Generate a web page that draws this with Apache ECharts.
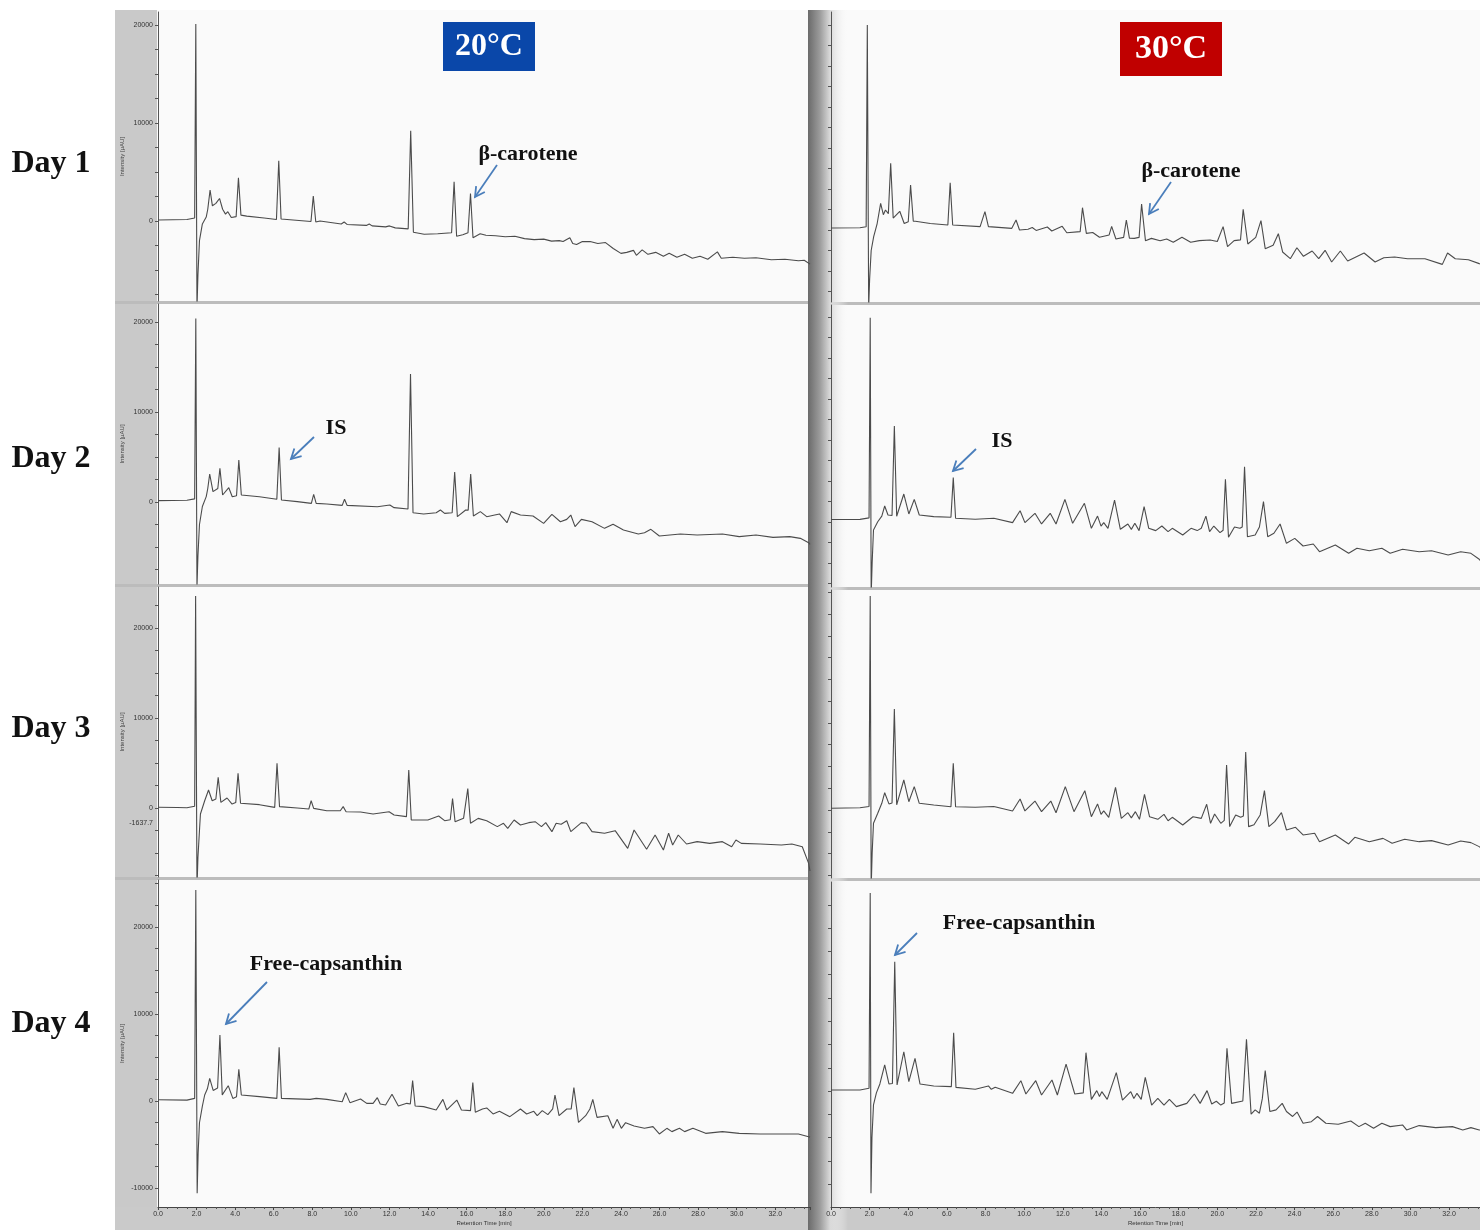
<!DOCTYPE html>
<html lang="en">
<head>
    <meta charset="utf-8">
    <title>Chromatograms 20°C / 30°C, Day 1-4</title>
    <style>
        html, body { margin: 0; padding: 0; background: #fff; }
        #chart { width: 1480px; height: 1230px; }
    </style>
</head>
<body>
<div id='chart'></div>
<script src='https://cdn.jsdelivr.net/npm/echarts@6.0.0/dist/echarts.min.js'></script>
<script>
// retention time [min], intensity [uAU]
var day1_20 = [[0,100],[1.5,150],[1.9,300],[1.96,20100],[2.02,-9000],[2.07,-5500],[2.15,-2000],[2.3,-300],[2.5,400],[2.58,1200],[2.7,3160],[2.82,1550],[3.0,1800],[3.19,2300],[3.35,1200],[3.5,700],[3.62,950],[3.8,350],[4.05,450],[4.17,4400],[4.3,600],[4.6,500],[5.5,300],[6.14,150],[6.26,6150],[6.38,200],[7.0,100],[7.93,-50],[8.05,2550],[8.18,-100],[8.4,0],[9.5,-300],[9.65,-100],[9.8,-350],[10.8,-450],[10.95,-300],[11.1,-500],[11.8,-600],[12.0,-500],[12.3,-700],[12.97,-800],[13.1,9200],[13.24,-1150],[13.8,-1350],[14.5,-1300],[15.22,-1200],[15.35,4000],[15.48,-1550],[15.8,-1400],[16.07,-1200],[16.2,2800],[16.33,-1700],[16.7,-1300],[17.0,-1450],[17.5,-1500],[18.0,-1600],[18.5,-1550],[19.0,-1800],[19.5,-1900],[20.0,-1850],[20.4,-2050],[20.8,-2000],[21.0,-2100],[21.35,-1700],[21.5,-2300],[21.7,-2400],[22.0,-2100],[22.4,-2100],[22.8,-2300],[23.2,-2200],[23.6,-2800],[24.0,-3300],[24.3,-3200],[24.65,-3000],[24.8,-3500],[25.1,-2950],[25.4,-3400],[25.8,-3200],[26.2,-3600],[26.5,-3300],[26.9,-3700],[27.3,-3400],[27.7,-3800],[28.1,-3600],[28.5,-3900],[29.0,-3150],[29.2,-3800],[29.8,-3700],[30.4,-3800],[31.0,-3750],[31.8,-3950],[32.5,-3900],[33.2,-4050],[33.5,-4000],[33.8,-4400]];
var day2_20 = [[0,150],[1.5,200],[1.9,350],[1.96,20400],[2.02,-9500],[2.07,-6000],[2.15,-2500],[2.3,-500],[2.5,600],[2.58,1500],[2.68,3110],[2.85,1150],[3.1,1500],[3.21,3740],[3.35,780],[3.45,780],[3.67,1590],[3.85,590],[4.07,700],[4.19,4670],[4.32,780],[5.26,590],[6.16,300],[6.28,6040],[6.4,220],[7.22,40],[7.95,-150],[8.07,850],[8.2,-150],[8.75,-220],[9.55,-370],[9.67,300],[9.8,-370],[11.37,-520],[12.02,-330],[12.24,-630],[12.96,-780],[13.09,14220],[13.22,-1190],[13.77,-1330],[14.42,-1190],[14.64,-890],[14.86,-1260],[15.25,-1190],[15.38,3330],[15.52,-1630],[15.95,-890],[16.08,-900],[16.21,3110],[16.35,-1560],[16.71,-1070],[17.04,-1630],[17.7,-1330],[18.09,-2300],[18.31,-1070],[18.79,-1450],[19.44,-1560],[19.99,-2370],[20.42,-1370],[20.86,-2190],[21.19,-1930],[21.4,-1450],[21.62,-2740],[21.95,-1930],[22.5,-2190],[23.15,-2930],[23.59,-2480],[24.13,-3110],[24.9,-3550],[25.22,-3410],[25.55,-3040],[25.99,-3780],[27.08,-3550],[27.95,-3670],[29.26,-3550],[30.13,-3850],[31.0,-3670],[31.88,-3930],[32.75,-3850],[33.3,-4040],[33.73,-4520],[33.8,-4700]];
var day3_20 = [[0,80],[1.0,60],[1.5,20],[1.9,200],[1.95,23560],[2.02,-9000],[2.07,-5500],[2.15,-2500],[2.2,-670],[2.42,810],[2.62,2000],[2.81,810],[3.0,1000],[3.12,3410],[3.26,630],[3.34,630],[3.58,1110],[3.84,440],[4.03,600],[4.15,3850],[4.28,520],[5.26,370],[6.05,70],[6.17,4960],[6.3,150],[7.22,0],[7.82,-110],[7.94,810],[8.07,-40],[8.75,-300],[9.45,-300],[9.6,150],[9.75,-410],[10.5,-450],[11.15,-670],[11.98,-410],[12.24,-780],[12.88,-960],[13.0,4220],[13.13,-1330],[13.99,-1330],[14.55,-890],[14.86,-1410],[15.15,-1300],[15.27,1040],[15.4,-1520],[15.84,-1150],[15.94,-1000],[16.06,2150],[16.2,-1700],[16.6,-1150],[17.04,-1410],[17.59,-2070],[17.91,-1700],[18.13,-2260],[18.46,-1330],[18.79,-1890],[19.22,-1630],[19.55,-1520],[19.88,-2070],[20.1,-1630],[20.42,-2630],[20.64,-1700],[20.9,-1800],[21.19,-1410],[21.4,-2630],[21.95,-1630],[22.2,-1700],[22.5,-2630],[23.15,-2810],[23.7,-2520],[24.35,-4480],[24.68,-2440],[25.33,-4590],[25.77,-3000],[26.2,-4670],[26.47,-2810],[26.68,-4110],[26.97,-3000],[27.4,-4000],[27.95,-3740],[28.6,-3930],[29.26,-3740],[29.74,-4300],[29.96,-3560],[30.24,-3930],[31.22,-4000],[32.32,-4110],[32.86,-4000],[33.4,-4300],[33.73,-6150],[33.8,-7000]];
var day4_20 = [[0,150],[1.5,100],[1.9,300],[1.96,24250],[2.03,-10600],[2.08,-6000],[2.15,-2500],[2.3,-600],[2.42,690],[2.56,1400],[2.68,2600],[2.86,1210],[3.09,1500],[3.21,7580],[3.33,700],[3.43,500],[3.64,1760],[3.88,300],[4.07,500],[4.19,3640],[4.32,690],[5.26,500],[6.16,300],[6.28,6170],[6.4,300],[7.88,190],[8.2,300],[8.75,190],[9.55,-80],[9.73,960],[9.95,-190],[10.5,230],[10.82,-270],[11.15,-270],[11.37,380],[11.52,-350],[11.8,-460],[12.13,770],[12.46,-580],[12.9,-270],[13.08,-350],[13.2,2340],[13.33,-580],[13.77,-650],[14.42,-1030],[14.77,190],[14.97,-1030],[15.49,110],[15.73,-1030],[16.2,-1110],[16.32,2110],[16.45,-1300],[16.82,-920],[17.04,-800],[17.37,-1490],[17.7,-1190],[18.24,-1800],[18.79,-920],[19.11,-1490],[19.48,-1190],[19.66,-1690],[19.92,-1110],[20.21,-1570],[20.46,-900],[20.58,690],[20.79,-1690],[21.19,-920],[21.42,-900],[21.56,1530],[21.8,-2450],[22.17,-1690],[22.39,-920],[22.54,190],[22.76,-1880],[23.32,-1690],[23.59,-3140],[23.8,-2110],[24.02,-3140],[24.24,-2490],[24.68,-2870],[25.22,-3140],[25.66,-2950],[25.99,-3790],[26.38,-3140],[26.64,-3520],[27.03,-3140],[27.3,-3520],[27.73,-3140],[28.39,-3720],[29.26,-3520],[30.13,-3720],[31.22,-3790],[32.32,-3790],[33.2,-3790],[33.73,-4100],[33.8,-4150]];
var day1_30 = [[0,250],[1.5,280],[1.82,400],[1.88,25000],[1.95,-9500],[2.0,-6000],[2.08,-2500],[2.21,-800],[2.39,790],[2.57,3250],[2.71,1870],[2.82,2440],[2.97,2000],[3.09,8130],[3.22,1460],[3.29,1460],[3.56,2280],[3.79,790],[4.0,1000],[4.12,5490],[4.26,1060],[4.37,1060],[5.14,790],[6.05,610],[6.17,5770],[6.3,610],[7.72,410],[7.97,2240],[8.15,410],[9.36,200],[9.58,1220],[9.76,0],[10.2,100],[10.42,300],[10.62,-50],[11.2,370],[11.43,-120],[11.97,450],[12.21,-330],[12.9,-200],[13.02,2720],[13.22,-410],[13.55,-300],[13.9,-890],[14.4,-600],[14.53,450],[14.75,-1100],[15.15,-900],[15.29,1220],[15.45,-1000],[15.7,-1020],[15.95,-900],[16.08,3170],[16.28,-1300],[16.59,-1020],[17.04,-1300],[17.38,-1100],[17.72,-1500],[18.17,-890],[18.62,-1500],[19.07,-1300],[19.63,-1220],[20.0,-1400],[20.3,410],[20.53,-2030],[20.87,-1300],[21.2,-1200],[21.34,2520],[21.58,-1710],[21.99,-890],[22.26,1140],[22.48,-2280],[22.89,-1870],[23.16,-450],[23.38,-2680],[23.78,-3500],[24.12,-2160],[24.46,-3210],[24.91,-2560],[25.25,-3500],[25.58,-2480],[25.92,-3900],[26.37,-2560],[26.75,-3780],[27.6,-2800],[28.17,-3900],[28.62,-3380],[29.18,-3290],[29.85,-3500],[30.75,-3500],[31.65,-4190],[31.92,-2800],[32.32,-3500],[33.0,-3620],[33.56,-4100],[33.6,-4150]];
var day2_30 = [[0,300],[1.5,320],[1.97,500],[2.03,24900],[2.08,-9000],[2.13,-5000],[2.2,-980],[2.42,30],[2.63,720],[2.78,1950],[2.95,850],[3.16,800],[3.28,11710],[3.4,700],[3.49,650],[3.77,3410],[4.03,980],[4.31,2760],[4.57,850],[5.32,650],[6.21,570],[6.33,5410],[6.45,450],[7.47,330],[8.43,450],[9.4,-80],[9.79,1380],[10.04,-80],[10.56,1060],[10.9,-240],[11.35,1060],[11.65,-240],[12.11,2760],[12.51,-160],[13.12,2280],[13.48,-770],[13.8,720],[13.98,-500],[14.12,-80],[14.34,-770],[14.68,2680],[14.98,-890],[15.37,-240],[15.55,-900],[15.73,-160],[15.95,-1050],[16.21,1870],[16.45,-770],[16.81,-1050],[17.13,-490],[17.45,-1180],[17.67,-770],[18.21,-1590],[18.64,-770],[18.96,-1050],[19.17,-770],[19.41,720],[19.6,-1180],[19.82,-490],[20.14,-1300],[20.3,-1000],[20.42,5200],[20.58,-1870],[20.89,-610],[21.17,-770],[21.29,-600],[21.41,6750],[21.56,-1790],[21.96,-1590],[22.18,-610],[22.39,2480],[22.61,-1790],[22.93,-1380],[23.25,-240],[23.58,-2600],[24.01,-2000],[24.44,-2930],[24.97,-2680],[25.29,-3620],[26.11,-2800],[26.8,-3820],[27.23,-3210],[27.87,-3500],[28.52,-3210],[28.95,-3820],[29.59,-3330],[30.45,-3620],[31.09,-3500],[31.95,-4030],[32.6,-3620],[33.13,-3820],[33.56,-4550],[33.6,-4700]];
var day3_30 = [[0,200],[1.5,250],[1.97,400],[2.03,24600],[2.08,-9000],[2.13,-5000],[2.2,-1530],[2.42,-380],[2.63,770],[2.78,1990],[3.0,700],[3.16,800],[3.28,11600],[3.4,600],[3.49,570],[3.77,3450],[4.03,950],[4.31,2680],[4.57,770],[5.32,570],[6.21,380],[6.33,5360],[6.45,380],[7.47,310],[8.43,400],[9.4,-110],[9.79,1260],[10.04,-110],[10.56,1030],[10.9,-190],[11.38,1030],[11.65,-310],[12.13,2680],[12.58,-190],[13.14,2220],[13.48,-770],[13.8,700],[13.98,-500],[14.12,-110],[14.38,-840],[14.73,2600],[15.03,-960],[15.37,-310],[15.55,-900],[15.76,-190],[15.97,-1070],[16.23,1800],[16.49,-770],[16.92,-1070],[17.24,-500],[17.45,-1230],[17.67,-840],[18.21,-1720],[18.74,-770],[19.17,-960],[19.45,660],[19.65,-1530],[19.86,-460],[20.18,-1530],[20.36,-1200],[20.48,5170],[20.64,-1910],[20.95,-570],[21.21,-840],[21.35,-700],[21.47,6660],[21.62,-1910],[21.9,-1700],[22.22,-570],[22.44,2220],[22.67,-1910],[22.97,-1340],[23.32,-310],[23.58,-2300],[24.05,-1990],[24.44,-2870],[25.04,-2680],[25.29,-3640],[26.11,-2870],[26.8,-3900],[27.12,-3140],[27.87,-3640],[28.58,-3260],[29.05,-3830],[29.7,-3370],[30.45,-3640],[31.09,-3520],[31.95,-4020],[32.6,-3560],[33.13,-3750],[33.56,-4210],[33.6,-4300]];
var day4_30 = [[0,100],[1.5,100],[1.97,300],[2.03,21300],[2.07,-11000],[2.12,-5000],[2.2,-1500],[2.35,-200],[2.53,760],[2.78,2800],[3.0,760],[3.18,800],[3.3,13900],[3.42,650],[3.51,570],[3.77,4220],[4.03,1000],[4.35,3510],[4.61,750],[5.32,540],[6.23,470],[6.35,6270],[6.47,390],[7.47,180],[8.15,540],[8.3,180],[8.5,400],[9.4,-250],[9.83,1110],[10.09,-320],[10.6,1110],[10.9,-430],[11.44,1180],[11.72,-430],[12.17,2900],[12.62,-320],[13.06,-200],[13.2,4120],[13.48,-900],[13.76,40],[13.9,-600],[14.02,-70],[14.3,-900],[14.77,1970],[15.09,-970],[15.52,-70],[15.68,-800],[15.84,-250],[16.06,-900],[16.27,1470],[16.6,-1510],[16.92,-790],[17.24,-1510],[17.52,-900],[17.88,-1680],[18.42,-1330],[18.81,-320],[19.11,-1330],[19.47,40],[19.71,-1400],[19.95,-1100],[20.18,-1510],[20.36,-1300],[20.5,4590],[20.74,-1330],[21.32,-1080],[21.51,5550],[21.75,-2490],[21.96,-2030],[22.18,-2390],[22.33,-820],[22.48,2190],[22.72,-2200],[23.04,-2030],[23.36,-1330],[23.58,-2200],[23.9,-2740],[24.13,-2260],[24.44,-3470],[24.87,-3300],[25.19,-2740],[25.62,-3470],[26.26,-3580],[26.91,-3220],[27.33,-3830],[27.66,-3470],[28.09,-4010],[28.52,-3470],[28.95,-3830],[29.59,-3650],[29.8,-4190],[30.45,-3720],[31.31,-3940],[32.17,-3830],[32.71,-4190],[33.13,-3940],[33.56,-4190],[33.6,-4200]];

var traces = [day1_20, day2_20, day3_20, day4_20, day1_30, day2_30, day3_30, day4_30];
var dayLabels = ['Day 1', 'Day 2', 'Day 3', 'Day 4'];
var tempLabels = ['20°C', '30°C'];
// y tick labels of the 20°C panels (30°C labels are hidden under the panel edge)
var yLabels20 = [[0, 10000, 20000], [0, 10000, 20000], [-1637.7, 0, 10000, 20000], [-10000, 0, 10000, 20000]];
var xMax = [33.8, 33.6];

// panel layout in px
var boxes = [
    {left: 158, top: 12, width: 652, height: 289},
    {left: 158, top: 304, width: 652, height: 280},
    {left: 158, top: 587, width: 652, height: 290},
    {left: 158, top: 880, width: 652, height: 327},
    {left: 831, top: 12, width: 649, height: 290},
    {left: 831, top: 305, width: 649, height: 282},
    {left: 831, top: 590, width: 649, height: 288},
    {left: 831, top: 882, width: 649, height: 325}
];
var yRange = [[-8163, 21327], [-9111, 22000], [-7667, 24556], [-12184, 25402],
              [-8780, 26585], [-7927, 26463], [-7816, 25287], [-12473, 22473]];

var serif = 'Liberation Serif';
var sans = 'Liberation Sans';

function minorTicks(r) {
    var arr = [];
    for (var v = Math.ceil(r[0] / 2500) * 2500; v <= r[1]; v += 2500) arr.push(v);
    return arr;
}

var grids = [], xAxes = [], yAxes = [], series = [];
for (var i = 0; i < 8; i++) {
    var left = i < 4;
    var bottom = (i % 4) === 3;
    grids.push(Object.assign({outerBoundsMode: 'none', containLabel: false}, boxes[i]));
    xAxes.push({
        type: 'value', gridIndex: i, min: 0, max: xMax[left ? 0 : 1], interval: 2,
        show: bottom, position: 'bottom',
        name: 'Retention Time [min]', nameLocation: 'middle', nameGap: 13,
        nameTextStyle: {fontSize: 6, color: '#333', fontFamily: sans},
        axisLine: {onZero: false, lineStyle: {color: '#444', width: 1}},
        axisTick: {length: 3, lineStyle: {color: '#444'}},
        minorTick: {show: true, splitNumber: 4, length: 2, lineStyle: {color: '#555'}},
        axisLabel: {fontSize: 7, color: '#333', fontFamily: sans, margin: 4, showMaxLabel: false,
            formatter: function (v) { return v.toFixed(1); }},
        splitLine: {show: false}
    });
    yAxes.push({
        type: 'value', gridIndex: i, min: yRange[i][0], max: yRange[i][1],
        name: left ? 'Intensity [µAU]' : '', nameLocation: 'middle', nameGap: 33,
        nameTextStyle: {fontSize: 6, color: '#444', fontFamily: sans},
        axisLine: {show: true, onZero: false, lineStyle: {color: '#555', width: 1}},
        axisTick: {show: true, length: 3, customValues: minorTicks(yRange[i]), lineStyle: {color: '#555'}},
        axisLabel: {show: left, fontSize: 7, color: '#333', fontFamily: sans, margin: 5,
            customValues: left ? yLabels20[i] : [],
            formatter: function (v) { return String(v); }},
        splitLine: {show: false}
    });
    series.push({
        type: 'line', xAxisIndex: i, yAxisIndex: i, data: traces[i],
        showSymbol: false, clip: true, animation: false,
        lineStyle: {color: '#4b4b4b', width: 1.1}
    });
}

// backgrounds and annotations
var g = [];
function rect(x, y, w, h, fill, z) {
    g.push({type: 'rect', shape: {x: x, y: y, width: w, height: h}, style: {fill: fill}, z: z, silent: true});
}
function text(x, y, s, size, color) {
    g.push({type: 'text', x: x, y: y, z: 100, silent: true,
        style: {text: s, fill: color || '#111', font: 'bold ' + size + 'px "' + serif + '"', align: 'center', verticalAlign: 'middle'}});
}
function arrow(x1, y1, x2, y2) {
    var a = Math.atan2(y2 - y1, x2 - x1), L = 11, s = 0.5;
    var st = {stroke: '#4a7ebb', lineWidth: 1.8, fill: null};
    g.push({type: 'line', z: 100, silent: true, shape: {x1: x1, y1: y1, x2: x2, y2: y2}, style: st});
    g.push({type: 'polyline', z: 100, silent: true, style: st, shape: {points: [
        [x2 - L * Math.cos(a - s), y2 - L * Math.sin(a - s)], [x2, y2],
        [x2 - L * Math.cos(a + s), y2 - L * Math.sin(a + s)]]}});
}

rect(115, 10, 695, 1220, '#fafafa', -20);
rect(830, 10, 650, 1220, '#fafafa', -20);
rect(115, 10, 42, 1220, '#c9c9c9', -15);
rect(115, 1207, 695, 23, '#cacaca', -15);
rect(830, 1207, 650, 23, '#cacaca', -15);
[301, 584, 877].forEach(function (y) { rect(115, y, 695, 3, '#bcbcbc', -14); });
[302, 587, 878].forEach(function (y) { rect(830, y, 650, 3, '#bcbcbc', -14); });
g.push({type: 'rect', z: -12, silent: true, shape: {x: 808, y: 10, width: 40, height: 1220},
    style: {fill: new echarts.graphic.LinearGradient(0, 0, 1, 0, [
        {offset: 0, color: '#6a6a6a'}, {offset: 0.3, color: '#9c9c9c'},
        {offset: 0.55, color: '#d9d9d9'}, {offset: 1, color: 'rgba(250,250,250,0)'}])}});

[164, 459, 729, 1024].forEach(function (y, k) { text(51, y, dayLabels[k], 32); });

rect(443, 22, 92, 49, '#0a47a9', 90);
text(489, 47, tempLabels[0], 32, '#ffffff');
rect(1120, 22, 102, 54, '#c00000', 90);
text(1171, 49, tempLabels[1], 34, '#ffffff');

text(528, 154, 'β-carotene', 22);
text(1191, 171, 'β-carotene', 22);
text(336, 428, 'IS', 22);
text(1002, 441, 'IS', 22);
text(326, 964, 'Free-capsanthin', 22);
text(1019, 923, 'Free-capsanthin', 22);
arrow(497, 165, 475, 197);
arrow(1171, 182, 1149, 214);
arrow(314, 437, 291, 459);
arrow(976, 449, 953, 471);
arrow(267, 982, 226, 1024);
arrow(917, 933, 895, 955);

var myChart = echarts.init(document.getElementById('chart'));
myChart.setOption({
    backgroundColor: '#ffffff',
    animation: false,
    grid: grids,
    xAxis: xAxes,
    yAxis: yAxes,
    series: series,
    graphic: {elements: g}
});
window.onresize = myChart.resize;
</script>
</body>
</html>
